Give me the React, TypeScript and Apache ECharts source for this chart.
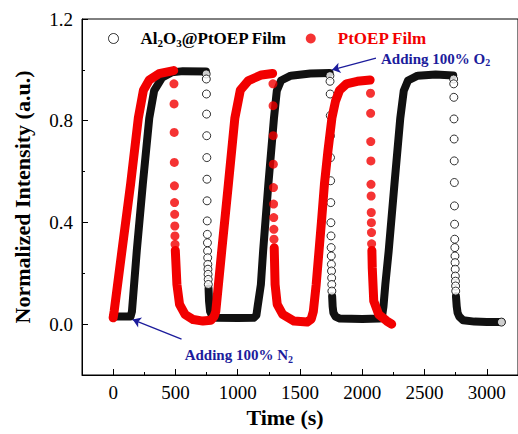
import React, { useEffect, useRef } from "react";
import * as echarts from "echarts";

const AL = "Al2O3@PtOEP Film";
const PT = "PtOEP Film";
const RED = "#f20000";
const BLUE = "#1c1c9c";
const SERIF = '"Liberation Serif", "DejaVu Serif", serif';

// tick values
const xMajor = [0, 500, 1000, 1500, 2000, 2500, 3000];
const xMinor = [250, 750, 1250, 1750, 2250, 2750];
const yMajor = [0, 0.4, 0.8, 1.2];
const yMinor = [0.2, 0.6, 1.0];

// Al2O3@PtOEP film: continuous (dense) parts of the record, [time s, intensity]
const alBand1 = [[0, 0.03], [140, 0.03], [151, 0.05], [190, 0.29], [238, 0.55], [290, 0.81], [329, 0.918], [394, 0.97], [470, 0.99], [560, 0.995], [745, 0.994]];
const alBand2 = [[766, 0.14], [770, 0.09], [778, 0.05], [795, 0.032], [830, 0.025], [1000, 0.024], [1130, 0.025], [1150, 0.035], [1160, 0.07], [1186, 0.156], [1204, 0.288], [1246, 0.55], [1291, 0.81], [1314, 0.918], [1348, 0.958], [1426, 0.977], [1583, 0.986], [1738, 0.988]];
const alBand3 = [[1758, 0.11], [1762, 0.07], [1768, 0.045], [1785, 0.03], [1820, 0.022], [2000, 0.02], [2140, 0.022], [2160, 0.035], [2170, 0.07], [2185, 0.156], [2212, 0.288], [2258, 0.55], [2305, 0.81], [2333, 0.918], [2367, 0.958], [2445, 0.977], [2589, 0.982], [2730, 0.978]];
const alBand4 = [[2752, 0.11], [2758, 0.07], [2765, 0.045], [2778, 0.03], [2810, 0.015], [2900, 0.01], [3000, 0.008], [3117, 0.008]];
// Al2O3@PtOEP film: sparse points during the O2 quench
const alDropTime = [747, 748, 749, 750, 751, 752, 753, 754, 755, 756, 757, 758, 759, 760, 761, 762, 763, 764,
  1740, 1741, 1742, 1743, 1744, 1745, 1746, 1747, 1748, 1749, 1750, 1751, 1752, 1753, 1754, 1755, 1756,
  2733, 2734, 2735, 2736, 2737, 2738, 2739, 2740, 2741, 2742, 2743, 2744, 2745, 2746, 2747, 2748, 2749, 2750, 3117];
const alDropValue = [0.984, 0.964, 0.905, 0.826, 0.741, 0.655, 0.57, 0.485, 0.406, 0.353, 0.32, 0.288, 0.261, 0.235, 0.216, 0.196, 0.176, 0.156,
  0.977, 0.955, 0.905, 0.82, 0.74, 0.655, 0.564, 0.478, 0.399, 0.347, 0.301, 0.268, 0.235, 0.209, 0.182, 0.156, 0.13,
  0.964, 0.945, 0.892, 0.807, 0.728, 0.642, 0.557, 0.465, 0.393, 0.334, 0.301, 0.268, 0.242, 0.216, 0.189, 0.169, 0.15, 0.13, 0.008];

// PtOEP film: continuous parts
const ptBand1 = [[0, 0.025], [8, 0.05], [71, 0.29], [140, 0.55], [202, 0.81], [243, 0.92], [290, 0.96], [368, 0.985], [486, 0.997]];
const ptBand2 = [[499, 0.29], [512, 0.156], [533, 0.078], [577, 0.038], [643, 0.018], [721, 0.012], [784, 0.015], [810, 0.03], [824, 0.05], [872, 0.29], [925, 0.55], [977, 0.81], [1021, 0.92], [1087, 0.958], [1191, 0.98], [1280, 0.986]];
const ptBand3 = [[1293, 0.3], [1300, 0.156], [1317, 0.078], [1361, 0.038], [1452, 0.012], [1557, 0.008], [1590, 0.02], [1607, 0.05], [1630, 0.156], [1675, 0.419], [1696, 0.55], [1724, 0.68], [1756, 0.81], [1785, 0.877], [1818, 0.92], [1873, 0.945], [1960, 0.955], [2063, 0.96]];
const ptBand4 = [[2077, 0.29], [2080, 0.222], [2092, 0.091], [2132, 0.038], [2197, 0.012], [2236, 0.0]];
// PtOEP film: sparse points during the O2 quench
const ptDropTime = [488, 489, 490, 491, 492, 493, 494, 495, 496, 497,
  1283, 1284, 1285, 1286, 1287, 1288, 1289, 1290, 1291,
  2066, 2067, 2068, 2069, 2070, 2071, 2072, 2073, 2074, 2075];
const ptDropValue = [0.945, 0.866, 0.754, 0.636, 0.544, 0.478, 0.432, 0.386, 0.347, 0.314,
  0.945, 0.859, 0.741, 0.629, 0.537, 0.472, 0.419, 0.373, 0.334,
  0.908, 0.829, 0.718, 0.642, 0.55, 0.504, 0.439, 0.399, 0.36, 0.316];

// annotations [time, intensity]
const o2ArrowFrom = [2110, 1.046];
const o2ArrowTo = [1758, 1.0];
const o2LabelAt = [2150, 1.044];
const n2ArrowFrom = [549, -0.059];
const n2ArrowTo = [157, 0.018];
const n2LabelAt = [574, -0.122];

function zip(t: number[], v: number[]) {
  return t.map((x, i) => [x, v[i]]);
}

const subRich = {
  sp: { width: 17, fontSize: 17, lineHeight: 20 },
  sp2: { width: 17, fontSize: 17, lineHeight: 20 },
  b: { fontFamily: SERIF, fontSize: 17, fontWeight: "bold", color: "#000", lineHeight: 20 },
  r: { fontFamily: SERIF, fontSize: 17, fontWeight: "bold", color: RED, lineHeight: 20 },
  s: { fontFamily: SERIF, fontSize: 11, fontWeight: "bold", color: "#000", lineHeight: 11, verticalAlign: "bottom" },
  a: { fontFamily: SERIF, fontSize: 15, fontWeight: "bold", color: BLUE, lineHeight: 18 },
  as: { fontFamily: SERIF, fontSize: 10, fontWeight: "bold", color: BLUE, lineHeight: 10, verticalAlign: "bottom" },
};

function band(name: string, data: number[][], color: string, width: number, z: number, extra: any = {}) {
  return {
    type: "line",
    name,
    data,
    showSymbol: false,
    symbol: "none",
    silent: true,
    z,
    lineStyle: { color, width, cap: "round", join: "round" },
    ...extra,
  };
}

export default function App() {
  const ref = useRef<HTMLDivElement>(null);
  useEffect(() => {
    document.body.style.margin = "0";
    const chart = echarts.init(ref.current!, null, { renderer: "svg" });
    const option: any = {
      animation: false,
      backgroundColor: "#fff",
      grid: { left: 82, top: 19, right: -11, bottom: 59, show: true, borderColor: "#000", borderWidth: 1, backgroundColor: "transparent" },
      legend: {
        selectedMode: false,
        left: 103,
        top: 25,
        itemWidth: 10,
        itemHeight: 10,
        itemGap: 19,
        data: [
          { name: AL, icon: "circle", itemStyle: { color: "#fff", borderColor: "#000", borderWidth: 1 } },
          { name: PT, icon: "circle", itemStyle: { color: RED } },
        ],
        formatter: (n: string) => (n === AL ? "{sp| }{b|Al}{s|2}{b|O}{s|3}{b|@PtOEP Film}" : "{sp2| }{r|PtOEP Film}"),
        textStyle: { fontFamily: SERIF, fontSize: 17, fontWeight: "bold", rich: subRich },
      },
      xAxis: [
        {
          type: "value", min: -250, max: 3250, interval: 250,
          axisLine: { show: true, onZero: false, lineStyle: { color: "#000", width: 1 } },
          axisTick: { show: true, inside: true, length: 6, customValues: xMajor, lineStyle: { color: "#000" } },
          axisLabel: { customValues: xMajor, formatter: (v: number) => String(v), fontFamily: SERIF, fontSize: 19, color: "#000", margin: 8 },
          splitLine: { show: false },
          name: "Time (s)", nameLocation: "middle", nameGap: 28,
          nameTextStyle: { fontFamily: SERIF, fontSize: 22, fontWeight: "bold", color: "#000", padding: [0, 30, 0, 0] },
        },
        {
          type: "value", min: -250, max: 3250, interval: 250, position: "bottom",
          axisLine: { show: false, onZero: false },
          axisTick: { show: true, inside: true, length: 3, customValues: xMinor, lineStyle: { color: "#000" } },
          axisLabel: { show: false },
          splitLine: { show: false },
        },
      ],
      yAxis: [
        {
          type: "value", min: -0.2, max: 1.2, interval: 0.2,
          axisLine: { show: true, onZero: false, lineStyle: { color: "#000", width: 1 } },
          axisTick: { show: true, inside: true, length: 6, customValues: yMajor, lineStyle: { color: "#000" } },
          axisLabel: { customValues: yMajor, formatter: (v: number) => v.toFixed(1), fontFamily: SERIF, fontSize: 19, color: "#000", margin: 9 },
          splitLine: { show: false },
          name: "Normalized Intensity (a.u.)", nameLocation: "middle", nameGap: 49,
          nameTextStyle: { fontFamily: SERIF, fontSize: 22, fontWeight: "bold", color: "#000" },
        },
        {
          type: "value", min: -0.2, max: 1.2, interval: 0.2, position: "left",
          axisLine: { show: false, onZero: false },
          axisTick: { show: true, inside: true, length: 3, customValues: yMinor, lineStyle: { color: "#000" } },
          axisLabel: { show: false },
          splitLine: { show: false },
        },
      ],
      series: [
        band("al-band-1", alBand1, "#111", 8, 2, {
          markLine: {
            silent: true,
            symbol: ["none", "arrow"],
            symbolSize: 8,
            label: { show: false },
            lineStyle: { color: BLUE, width: 1.3, type: "solid" },
            data: [
              [{ coord: o2ArrowFrom }, { coord: o2ArrowTo }],
              [{ coord: n2ArrowFrom }, { coord: n2ArrowTo }],
            ],
          },
          markPoint: {
            silent: true,
            symbol: "circle",
            symbolSize: 0,
            data: [
              { coord: o2LabelAt, label: { show: true, position: "right", distance: 0, formatter: "{a|Adding 100% O}{as|2}", rich: subRich } },
              { coord: n2LabelAt, label: { show: true, position: "right", distance: 0, formatter: "{a|Adding 100% N}{as|2}", rich: subRich } },
            ],
          },
        }),
        band("al-band-2", alBand2, "#111", 8, 2),
        band("al-band-3", alBand3, "#111", 8, 2),
        band("al-band-4", alBand4, "#111", 8, 2),
        {
          type: "scatter", name: AL, data: zip(alDropTime, alDropValue), symbol: "circle", symbolSize: 8, z: 3,
          itemStyle: { color: "#fff", borderColor: "#000", borderWidth: 1 },
        },
        band("pt-band-1", ptBand1, RED, 9, 4),
        band("pt-band-2", ptBand2, RED, 9, 4),
        band("pt-band-3", ptBand3, RED, 9, 4),
        band("pt-band-4", ptBand4, RED, 9, 4),
        {
          type: "scatter", name: PT, data: zip(ptDropTime, ptDropValue), symbol: "circle", symbolSize: 9, z: 5,
          itemStyle: { color: RED },
        },
      ],
    };
    chart.setOption(option);
    return () => chart.dispose();
  }, []);
  return <div ref={ref} style={{ width: 518, height: 434 }} />;
}
